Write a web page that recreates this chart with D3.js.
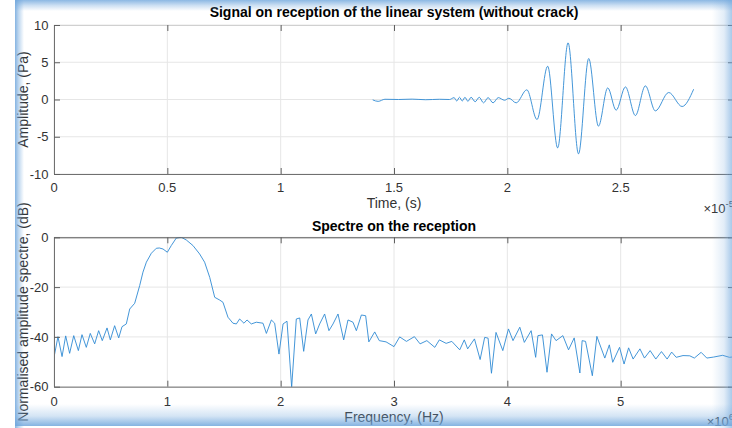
<!DOCTYPE html>
<html><head><meta charset="utf-8">
<script src="https://cdn.jsdelivr.net/npm/d3@7"></script>
<style>
body{margin:0;background:#fff;overflow:hidden}
svg{display:block}
text{font-family:"Liberation Sans",Arial,Helvetica,sans-serif}
</style>
</head><body>
<svg id="chart" width="732" height="428"></svg>
<script>
// ---------- DATA ----------
const timeTicks = [0, 0.5, 1, 1.5, 2, 2.5, 3];          // ×1e-5 s
const ampTicks  = [-10, -5, 0, 5, 10];                  // Pa
const timeExponent = "-5";
// received signal: [time (×1e-5 s), amplitude (Pa)] (extrema)
const timeSignal = [
  [1.406,-0.05],[1.43,-0.25],[1.46,0.03],[1.52,0.0],[1.58,0.05],[1.64,-0.03],[1.70,0.03],
  [1.745,0.0],[1.765,0.25],[1.777,-0.2],[1.789,0.3],[1.801,-0.2],[1.813,0.3],[1.826,-0.25],
  [1.84,0.3],[1.858,-0.3],[1.876,0.3],[1.895,-0.45],[1.915,0.25],[1.937,-0.45],[1.96,0.25],
  [1.988,-0.1],[2.007,0.17],[2.039,-0.45],[2.086,1.3],[2.131,-2.69],[2.178,4.47],[2.222,-6.5],
  [2.268,7.6],[2.314,-7.3],[2.359,5.5],[2.402,-3.58],[2.443,1.56],[2.480,-1.44],[2.521,1.69],
  [2.565,-2.15],[2.609,1.83],[2.653,-1.53],[2.712,0.94],[2.771,-0.94],[2.822,1.38]
];
const freqTicks = [0, 1, 2, 3, 4, 5, 6];                // ×1e6 Hz
const dbTicks   = [-60, -40, -20, 0];                   // dB
const freqExponent = "6";
// normalised spectrum: [frequency (×1e6 Hz), dB]
const spectrum = [
  [0,-48.2],[0.035,-39.9],[0.071,-47.9],[0.103,-39.6],[0.138,-46.6],[0.174,-39.5],[0.215,-45.5],
  [0.247,-39.1],[0.285,-44.2],[0.32,-38.6],[0.359,-42.8],[0.394,-37.5],[0.426,-41.5],[0.468,-36.4],
  [0.497,-41.2],[0.535,-35.5],[0.571,-40.4],[0.6,-35.9],[0.638,-34.8],[0.668,-28.8],[0.712,-26.5],
  [0.756,-19.4],[0.785,-14],[0.815,-10],[0.859,-6.4],[0.903,-4.4],[0.93,-4.3],[0.962,-4.7],[1.0,-6.0],
  [1.035,-3.3],[1.079,-0.3],[1.124,0],[1.168,-1.1],[1.226,-3.3],[1.285,-6.7],[1.329,-10],
  [1.374,-16.1],[1.418,-24.1],[1.462,-25.2],[1.491,-26.1],[1.535,-32.1],[1.579,-34.5],[1.609,-34.8],
  [1.638,-32.8],[1.676,-34.5],[1.703,-33.2],[1.741,-34.8],[1.785,-34.1],[1.844,-34.5],[1.874,-38.6],
  [1.918,-33.2],[1.947,-34.5],[1.985,-46.9],[2.021,-34.8],[2.056,-33.7],[2.097,-60.2],[2.138,-32.8],
  [2.168,-32.4],[2.203,-45.8],[2.241,-33.2],[2.271,-30.8],[2.309,-38.8],[2.344,-34.8],[2.388,-30.8],
  [2.426,-37.5],[2.462,-34.8],[2.506,-30.8],[2.556,-41.2],[2.594,-33.2],[2.638,-34.1],[2.668,-37.5],
  [2.712,-31.2],[2.75,-31.5],[2.778,-42],[2.83,-38],[2.87,-41.5],[2.93,-42],[3.0,-43.9],[3.05,-40],
  [3.11,-41.8],[3.18,-39.9],[3.23,-42.8],[3.29,-41.5],[3.36,-44.2],[3.40,-41.2],[3.46,-42.6],
  [3.51,-41.8],[3.58,-45.2],[3.62,-41.2],[3.65,-44.8],[3.71,-40.8],[3.76,-49.1],[3.80,-40.2],
  [3.83,-40.5],[3.86,-54.6],[3.90,-38.2],[3.96,-45.5],[4.01,-36.8],[4.05,-41.5],[4.11,-36.1],
  [4.15,-42.2],[4.21,-37.5],[4.25,-48.2],[4.27,-39.5],[4.31,-39.2],[4.35,-54.2],[4.39,-38.8],
  [4.43,-41.5],[4.49,-39.5],[4.54,-45.2],[4.59,-40.4],[4.64,-54.5],[4.66,-41.5],[4.69,-41.8],
  [4.75,-55.6],[4.79,-39.8],[4.86,-48.5],[4.90,-43.2],[4.93,-50.2],[4.99,-44.2],[5.03,-50.9],
  [5.07,-44.4],[5.11,-48.9],[5.17,-44.8],[5.21,-48.5],[5.26,-45.5],[5.31,-48.9],[5.36,-45.9],
  [5.41,-48.9],[5.45,-46.1],[5.49,-48.2],[5.55,-47.5],[5.61,-47.6],[5.65,-48.5],[5.71,-46.2],
  [5.76,-48.5],[5.82,-48.1],[5.90,-47.4],[5.96,-48.2],[6.0,-48.0]
];

// ---------- DRAW ----------
const svg = d3.select("#chart");
const W = 732;
const lineColor = "#2f8ad4";
const defs = svg.append("defs");

function panel(cfg) {
  const x = d3.scaleLinear().domain(cfg.xDomain).range([54, 734]);
  const y = d3.scaleLinear().domain(cfg.yDomain).range([cfg.bottom, cfg.top]);
  const g = svg.append("g");
  const [x0, x1] = x.range(), [yb, yt] = y.range();

  // grid
  g.append("g").selectAll("line").data(cfg.xTicks).join("line")
    .attr("x1", d => x(d)).attr("x2", d => x(d)).attr("y1", yb).attr("y2", yt)
    .attr("stroke", "#e6e6e6").attr("stroke-width", 1);
  g.append("g").selectAll("line").data(cfg.yTicks).join("line")
    .attr("x1", x0).attr("x2", x1).attr("y1", d => y(d)).attr("y2", d => y(d))
    .attr("stroke", "#e6e6e6").attr("stroke-width", 1);

  // clip
  defs.append("clipPath").attr("id", cfg.id).append("rect")
    .attr("x", x0).attr("y", yt).attr("width", x1 - x0).attr("height", yb - yt);

  const line = d3.line().x(d => x(d[0])).y(d => y(d[1])).curve(cfg.curve);
  g.append("path").datum(cfg.data).attr("d", line)
    .attr("clip-path", `url(#${cfg.id})`)
    .attr("fill", "none").attr("stroke", lineColor).attr("stroke-width", 0.9)
    .attr("stroke-linejoin", "round");

  // axes using d3 axis with inward ticks
  const xb = g.append("g").attr("transform", `translate(0,${yb})`)
    .call(d3.axisBottom(x).tickValues(cfg.xTicks).tickSizeInner(-6).tickSizeOuter(0).tickFormat(d => ""));
  const xt = g.append("g").attr("transform", `translate(0,${yt})`)
    .call(d3.axisTop(x).tickValues(cfg.xTicks).tickSizeInner(-6).tickSizeOuter(0).tickFormat(d => ""));
  const yl = g.append("g").attr("transform", `translate(${x0},0)`)
    .call(d3.axisLeft(y).tickValues(cfg.yTicks).tickSizeInner(-6).tickSizeOuter(0).tickFormat(d => ""));
  const yr = g.append("g").attr("transform", `translate(${x1},0)`)
    .call(d3.axisRight(y).tickValues(cfg.yTicks).tickSizeInner(-6).tickSizeOuter(0).tickFormat(d => ""));
  [xb, yl].forEach(a => { a.select(".domain").attr("stroke", "#707070"); a.selectAll(".tick line").attr("stroke", "#606060"); });
  [xt, yr].forEach(a => { a.select(".domain").attr("stroke", cfg.topColor); a.selectAll(".tick line").attr("stroke", "#606060"); });

  // tick labels (the last one lies beyond the figure's cropped right edge)
  g.append("g").selectAll("text").data(cfg.xTicks.filter(d => x(d) < W - 10)).join("text")
    .attr("x", d => x(d)).attr("y", cfg.xLabelY).attr("text-anchor", "middle")
    .attr("font-size", 13).attr("fill", "#333").text(d => d3.format("~g")(d));
  g.append("g").selectAll("text").data(cfg.yTicks).join("text")
    .attr("x", 48.5).attr("y", d => y(d)).attr("dy", "0.36em").attr("text-anchor", "end")
    .attr("font-size", 13).attr("fill", "#333").text(d => d3.format("~g")(d).replace("−", "-"));

  // titles & labels
  svg.append("text").attr("x", (x0 + x1) / 2).attr("y", cfg.titleY).attr("text-anchor", "middle")
    .attr("font-size", 14).attr("font-weight", "bold").attr("fill", "#000").text(cfg.title);
  svg.append("text").attr("x", (x0 + x1) / 2).attr("y", cfg.xTitleY).attr("text-anchor", "middle")
    .attr("font-size", 14).attr("fill", "#333").text(cfg.xTitle);
  svg.append("text").attr("transform", `translate(27.5,${(yb + yt) / 2}) rotate(-90)`)
    .attr("text-anchor", "middle").attr("font-size", 14).attr("fill", "#333").text(cfg.yTitle);
  const ex = svg.append("text").attr("x", x1).attr("y", cfg.expY).attr("text-anchor", "end")
    .attr("font-size", 13).attr("fill", "#333").text("×10");
  ex.append("tspan").attr("dy", -6).attr("font-size", 9.5).text(cfg.exp);
}

panel({
  id: "clipTop", xDomain: [0, 3], yDomain: [-10, 10], top: 25, bottom: 174,
  xTicks: timeTicks, yTicks: ampTicks, data: timeSignal, curve: d3.curveMonotoneX,
  title: "Signal on reception of the linear system (without crack)", titleY: 17,
  xTitle: "Time, (s)", xTitleY: 207.5, yTitle: "Amplitude, (Pa)",
  xLabelY: 192, expY: 213, exp: timeExponent, topColor: "#d0d0d0"
});
panel({
  id: "clipBot", xDomain: [0, 6], yDomain: [-60, 0], top: 237.3, bottom: 386.7,
  xTicks: freqTicks, yTicks: dbTicks, data: spectrum, curve: d3.curveLinear,
  title: "Spectre on the reception", titleY: 231,
  xTitle: "Frequency, (Hz)", xTitleY: 422, yTitle: "Normalised amplitude spectre, (dB)",
  xLabelY: 405.5, expY: 425.5, exp: freqExponent, topColor: "#555"
});

// ---------- window glow frame ----------
function grad(id, x1, y1, x2, y2, stops) {
  const lg = defs.append("linearGradient").attr("id", id)
    .attr("x1", x1).attr("y1", y1).attr("x2", x2).attr("y2", y2);
  stops.forEach(s => lg.append("stop").attr("offset", s[0]).attr("stop-color", "#6fa6dc").attr("stop-opacity", s[1]));
}
grad("gL", 0, 0, 1, 0, [[0, 0.85], [0.4, 0.45], [1, 0]]);
grad("gT", 0, 0, 0, 1, [[0, 0.8], [0.5, 0.35], [1, 0]]);
grad("gR", 0, 0, 1, 0, [[0, 0], [0.6, 0.2], [1, 0.6]]);
grad("gB", 0, 0, 0, 1, [[0, 0], [0.55, 0.3], [1, 0.85]]);
svg.append("rect").attr("x", 15).attr("y", 0).attr("width", 9).attr("height", 428).attr("fill", "url(#gL)");
svg.append("rect").attr("x", 15).attr("y", 0).attr("width", 717).attr("height", 11).attr("fill", "url(#gT)");
svg.append("rect").attr("x", 712).attr("y", 0).attr("width", 20).attr("height", 428).attr("fill", "url(#gR)");
svg.append("rect").attr("x", 15).attr("y", 404).attr("width", 717).attr("height", 22).attr("fill", "url(#gB)");
</script>
</body></html>
